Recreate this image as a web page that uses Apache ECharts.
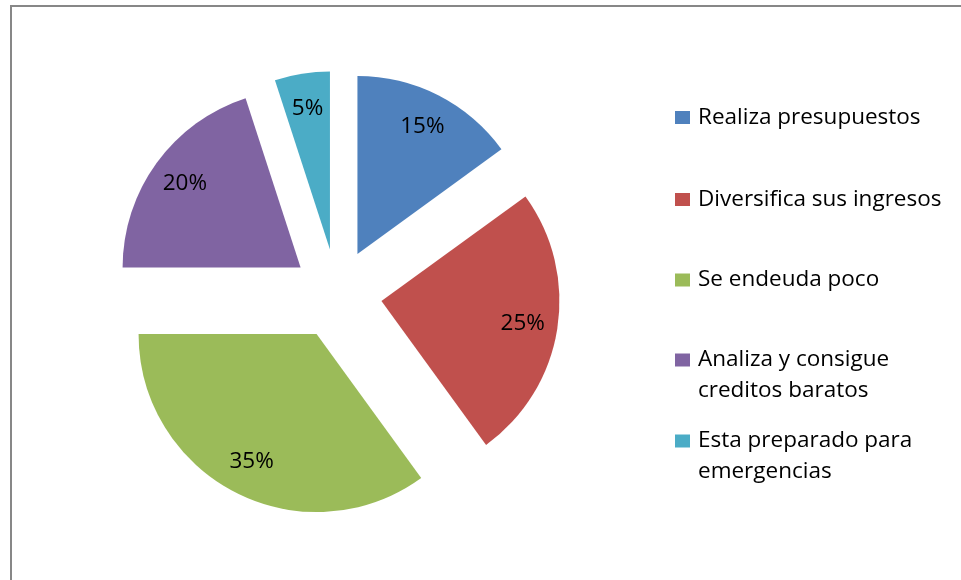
<!DOCTYPE html>
<html>
<head>
<meta charset="utf-8">
<script src="https://cdn.jsdelivr.net/npm/echarts@6/dist/echarts.min.js"></script>
<style>
html,body{margin:0;padding:0;background:#fff;}
#chart{width:961px;height:580px;}
</style>
</head>
<body>
<div id="chart"></div>
<script>
var categories = ["Realiza presupuestos", "Diversifica sus ingresos", "Se endeuda poco", "Analiza y consigue creditos baratos", "Esta preparado para emergencias"];
var legendLines = [["Realiza presupuestos"], ["Diversifica sus ingresos"], ["Se endeuda poco"], ["Analiza y consigue", "creditos baratos"], ["Esta preparado para", "emergencias"]];
var values = [15, 25, 35, 20, 5];
var colors = ["#4F81BD", "#C0504D", "#9BBB59", "#8064A2", "#4BACC6"];

var FONT = "'Open Sans'";
var FS = 22.5;
var LH = 31;
var center = [337, 294];
var R = 178;
var OFF = 45;

function makeData(withColor) {
  return categories.map(function (n, i) {
    return {
      name: n,
      value: values[i],
      selected: true,
      itemStyle: withColor ? { color: colors[i] } : { color: 'rgba(0,0,0,0)' }
    };
  });
}

// first-line centre of each legend entry
var legendCenters = [117.5, 199.5, 280, 360, 441];
var legends = categories.map(function (n, i) {
  var lines = legendLines[i];
  // pad with a blank line on top so that the first text line sits at the marker's centre
  var txt = lines.length > 1 ? ' \n' + lines.join('\n') : lines[0];
  var nLines = lines.length > 1 ? 3 : 1;
  return {
    data: [n],
    orient: 'vertical',
    left: 675,
    top: legendCenters[i] - nLines * LH / 2,
    padding: 0,
    itemWidth: 15,
    itemHeight: 13,
    icon: 'rect',
    selectedMode: false,
    formatter: function () { return txt; },
    textStyle: {
      fontFamily: FONT,
      fontSize: FS,
      lineHeight: LH,
      color: '#000',
      padding: [0, 0, 0, 3]
    }
  };
});

var chart = echarts.init(document.getElementById('chart'), null, { renderer: 'canvas' });
chart.setOption({
  animation: false,
  backgroundColor: '#fff',
  graphic: [{
    type: 'rect',
    silent: true,
    shape: { x: 11, y: 6, width: 1200, height: 1200 },
    style: { fill: 'none', stroke: '#878787', lineWidth: 2 }
  }],
  legend: legends,
  series: [{
    type: 'pie',
    center: center,
    radius: [0, R],
    startAngle: 90,
    clockwise: true,
    selectedMode: 'multiple',
    selectedOffset: OFF,
    avoidLabelOverlap: false,
    label: { show: false },
    labelLine: { show: false },
    itemStyle: { borderWidth: 0 },
    emphasis: { disabled: true },
    select: { itemStyle: { borderWidth: 0 } },
    data: makeData(true)
  }, {
    type: 'pie',
    silent: true,
    center: center,
    radius: [102, R],
    startAngle: 90,
    clockwise: true,
    selectedMode: 'multiple',
    selectedOffset: OFF,
    avoidLabelOverlap: false,
    label: {
      show: true,
      position: 'inside',
      formatter: '{c}%',
      fontFamily: FONT,
      fontSize: FS,
      color: '#000',
      textBorderWidth: 0
    },
    labelLine: { show: false },
    itemStyle: { borderWidth: 0 },
    emphasis: { disabled: true },
    select: { itemStyle: { borderWidth: 0 }, label: { color: '#000' } },
    data: makeData(false)
  }]
});
</script>
</body>
</html>
